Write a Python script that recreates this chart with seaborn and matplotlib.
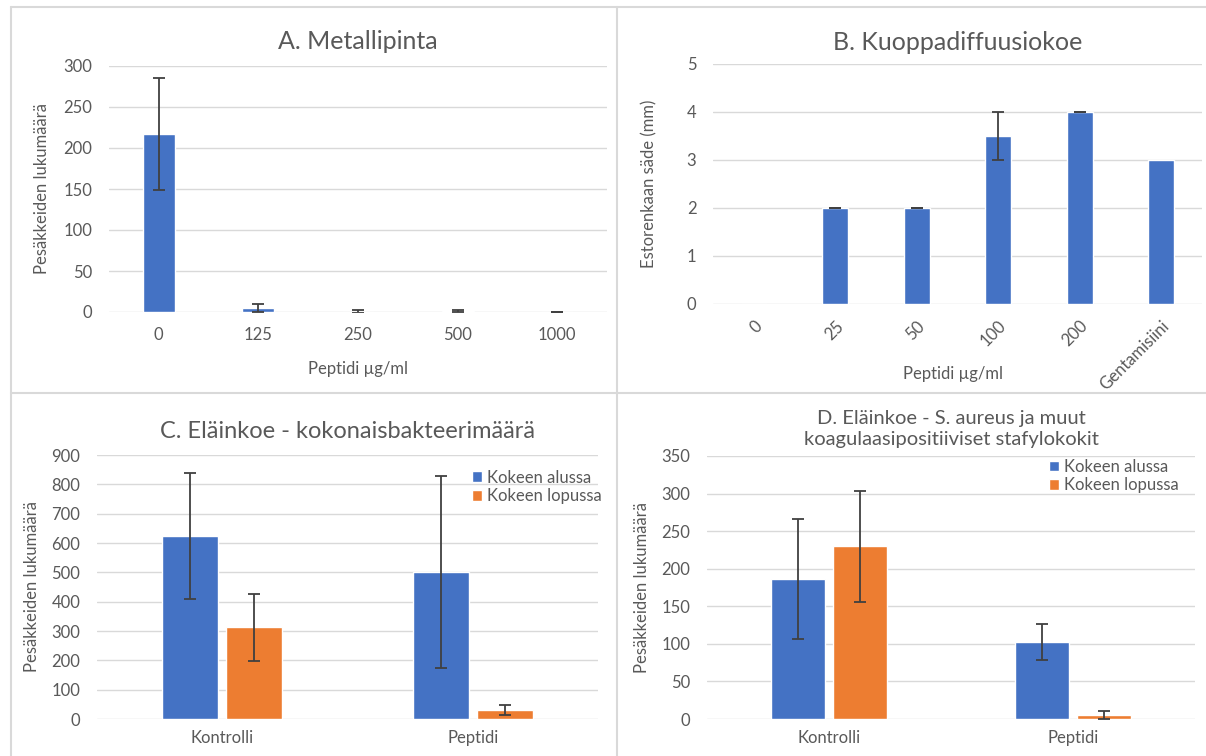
import matplotlib
matplotlib.use("Agg")
import matplotlib.pyplot as plt
from matplotlib.lines import Line2D
import pandas as pd
import seaborn as sns

# A. Metallipinta
a_cats = ["0", "125", "250", "500", "1000"]
a_vals = [217, 5, 0.5, 1.5, 0]
a_err = [68, 5, 1.5, 1.5, 0]

# B. Kuoppadiffuusiokoe
b_cats = ["0", "25", "50", "100", "200", "Gentamisiini"]
b_vals = [0, 2, 2, 3.5, 4, 3]
b_err = [None, 0, 0, 0.5, 0, None]

# C / D grouped
groups = ["Kontrolli", "Peptidi"]
series = ["Kokeen alussa", "Kokeen lopussa"]
c_alussa = [625, 502]
c_lopussa = [312, 30]
c_alussa_err = [215, 327]
c_lopussa_err = [113, 17]
d_alussa = [186, 103]
d_lopussa = [230, 5]
d_alussa_err = [80, 24]
d_lopussa_err = [74, 5]

BLUE = "#4472C4"
ORANGE = "#ED7D31"
TXT = "#595959"
GRID = "#D9D9D9"
ERR = "#404040"
FS = 12

sns.set_style("white")
plt.rcParams["font.family"] = ["Lato", "DejaVu Sans"]

W, H = 1206, 756
fig = plt.figure(figsize=(W / 100, H / 100), dpi=100)


def px_axes(left, right, top, bottom):
    return fig.add_axes([left / W, 1 - bottom / H, (right - left) / W, (bottom - top) / H])


def style(ax, ymax, step, ncat):
    ax.set_xlim(-0.5, ncat - 0.5)
    ax.set_ylim(0, ymax)
    ax.set_yticks(range(0, ymax + 1, step))
    ax.grid(axis="y", color=GRID, linewidth=1)
    ax.set_axisbelow(True)
    for s in ax.spines.values():
        s.set_visible(False)
    ax.tick_params(length=0, colors=TXT, labelsize=FS)
    ax.tick_params(axis="y", pad=12)


def add_err(ax, container, errs):
    for bar, e in zip(container, errs):
        if e is None:
            continue
        ax.errorbar(bar.get_x() + bar.get_width() / 2, bar.get_height(), yerr=e,
                    fmt="none", ecolor=ERR, elinewidth=1.3, capsize=4, capthick=1.3)


# Panel A
axA = px_axes(109, 607, 66, 312)
sns.barplot(x=a_cats, y=a_vals, color=BLUE, saturation=1, width=0.32, errorbar=None, ax=axA)
add_err(axA, axA.containers[0], a_err)
style(axA, 300, 50, len(a_cats))
axA.tick_params(axis="x", pad=11)
axA.set_title("A. Metallipinta", color=TXT, fontsize=18, pad=12)
axA.set_xlabel("Peptidi µg/ml", color=TXT, fontsize=FS, labelpad=13)
axA.set_ylabel("Pesäkkeiden lukumäärä", color=TXT, fontsize=FS, labelpad=10)

# Panel B
axB = px_axes(713, 1202, 64, 304)
sns.barplot(x=b_cats, y=b_vals, color=BLUE, saturation=1, width=0.32, errorbar=None, ax=axB)
add_err(axB, axB.containers[0], b_err)
style(axB, 5, 1, len(b_cats))
axB.set_xticks(range(len(b_cats)))
axB.set_xticklabels(b_cats, rotation=45, ha="right", rotation_mode="anchor")
axB.tick_params(axis="x", pad=10)
axB.set_title("B. Kuoppadiffuusiokoe", color=TXT, fontsize=18, pad=10)
axB.set_xlabel("Peptidi µg/ml", color=TXT, fontsize=FS)
axB.xaxis.set_label_coords(0.49, -62 / 240)
axB.set_ylabel("Estorenkaan säde (mm)", color=TXT, fontsize=FS, labelpad=21)


def grouped(ax, alussa, lopussa, e1, e2, ymax, step, title, tsize, tpad, legx, legy):
    df = pd.DataFrame({
        "ryhma": groups * 2,
        "sarja": [series[0]] * 2 + [series[1]] * 2,
        "arvo": alussa + lopussa,
    })
    sns.barplot(data=df, x="ryhma", y="arvo", hue="sarja", palette=[BLUE, ORANGE],
                saturation=1, width=0.51, gap=0.125, errorbar=None, ax=ax)
    add_err(ax, ax.containers[0], e1)
    add_err(ax, ax.containers[1], e2)
    style(ax, ymax, step, len(groups))
    ax.tick_params(axis="x", pad=8)
    ax.set_title(title, color=TXT, fontsize=tsize, pad=tpad, linespacing=1.25)
    ax.set_xlabel("")
    ax.set_ylabel("Pesäkkeiden lukumäärä", color=TXT, fontsize=FS, labelpad=8)
    leg = ax.legend(loc="upper right", bbox_to_anchor=(legx, legy), frameon=False,
                    fontsize=FS, handlelength=0.6, handleheight=0.6,
                    handletextpad=0.3, labelspacing=0.15, borderaxespad=0)
    for t in leg.get_texts():
        t.set_color(TXT)


axC = px_axes(97, 598, 455, 719)
grouped(axC, c_alussa, c_lopussa, c_alussa_err, c_lopussa_err, 900, 100,
        "C. Eläinkoe - kokonaisbakteerimäärä", 17, 12, 1.02, 0.97)

axD = px_axes(707, 1195, 456, 719)
grouped(axD, d_alussa, d_lopussa, d_alussa_err, d_lopussa_err, 350, 50,
        "D. Eläinkoe - S. aureus ja muut\nkoagulaasipositiiviset stafylokokit", 14.5, 8, 0.98, 1.015)

# panel borders
for x0, y0, x1, y1 in [(11, 7, W, 7), (11, 393, W, 393), (11, 7, 11, H), (617, 7, 617, H)]:
    fig.add_artist(Line2D([x0 / W, x1 / W], [1 - y0 / H, 1 - y1 / H],
                          color=GRID, linewidth=1.5, transform=fig.transFigure))

fig.savefig("out.png", dpi=100)
